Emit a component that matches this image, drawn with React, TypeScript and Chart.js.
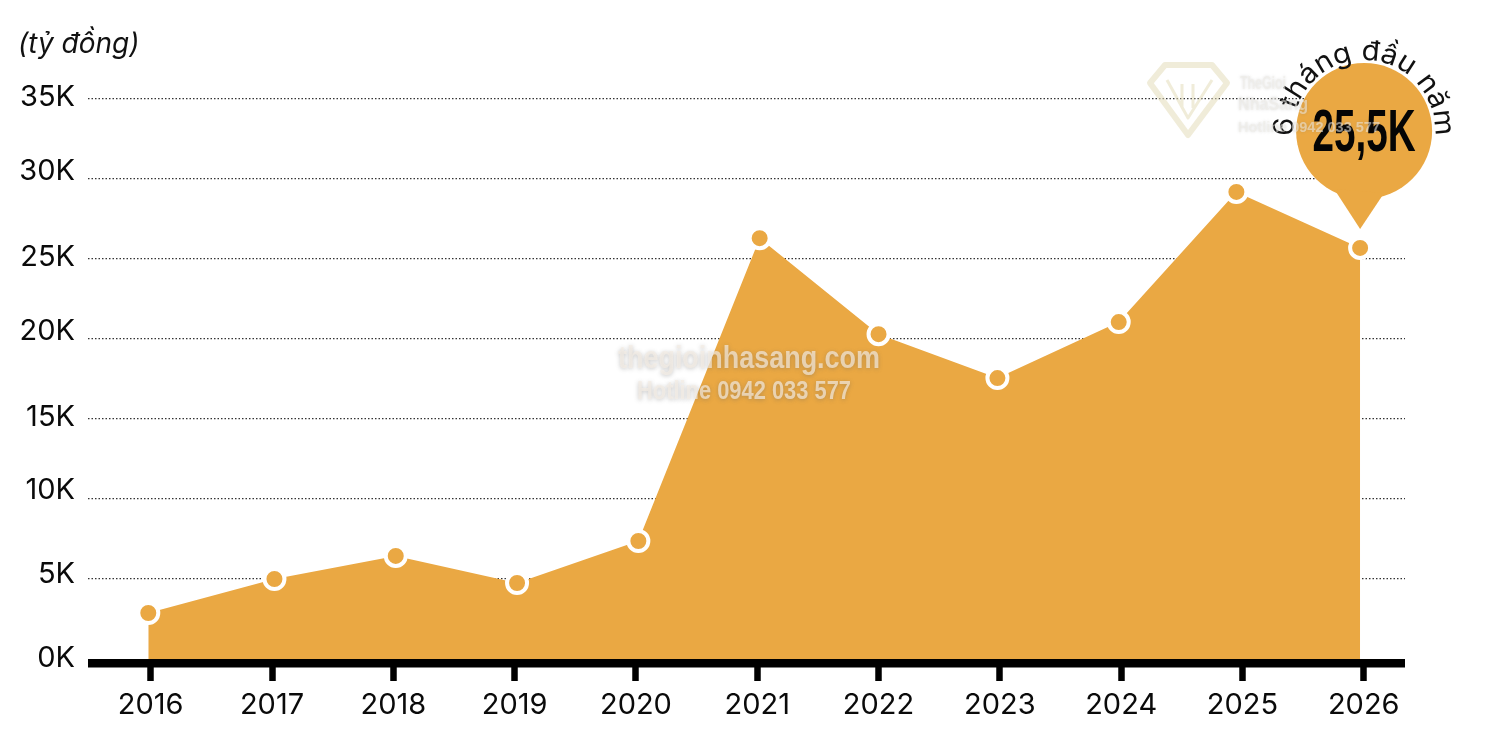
import React, { useEffect, useRef } from "react";
import Chart from "chart.js/auto";

const years = [2016, 2017, 2018, 2019, 2020, 2021, 2022, 2023, 2024, 2025, 2026];
// points sit slightly off the year ticks in the source
const pointX = [2015.98, 2017.02, 2018.02, 2019.02, 2020.02, 2021.02, 2022.0, 2022.98, 2023.98, 2024.95, 2025.97];
const revenue = [2875, 5000, 6440, 4750, 7375, 26300, 20300, 17560, 21060, 29190, 25690];
const yTicks = [0, 5000, 10000, 15000, 20000, 25000, 30000, 35000];
// the y labels are not quite level with their grid lines in the source
const yLabelShift = [-1, -5, -9, -2, -8, -2, -8, -2];

const unitLabel = "(tỷ đồng)";
const bubbleLabel = "25,5K";
const arcLabel = "6 tháng đầu năm";
const watermark = ["thegioinhasang.com", "Hotline 0942 033 577"];
const logoText = ["TheGioi", "NhaSang", "Hotline 0942 033 577"];

const ORANGE = "#EAA843";
const FONT = "Inter, 'Noto Sans', sans-serif";

const decorPlugin = {
  id: "decor",
  afterDraw(chart: any) {
    const { ctx, scales } = chart;
    const x = scales.x;
    const y = scales.y;
    ctx.save();

    // thick baseline
    ctx.fillStyle = "#000";
    ctx.fillRect(x.left, y.getPixelForValue(0), x.right - x.left, 8.5);

    // y tick labels
    ctx.fillStyle = "#0a0a0a";
    ctx.font = `400 29px ${FONT}`;
    ctx.textAlign = "right";
    ctx.textBaseline = "middle";
    yTicks.forEach((v, i) => {
      ctx.fillText(`${v / 1000}K`, 75, y.getPixelForValue(v) + yLabelShift[i]);
    });

    // unit
    ctx.fillStyle = "#111";
    ctx.font = `italic 400 28px ${FONT}`;
    ctx.textAlign = "left";
    ctx.fillText(unitLabel, 18, 45, 122);

    // centre watermark
    ctx.save();
    ctx.textAlign = "center";
    ctx.shadowColor = "rgba(90,90,90,0.5)";
    ctx.shadowBlur = 4;
    ctx.shadowOffsetY = 1;
    ctx.fillStyle = "rgba(245,238,228,0.68)";
    ctx.font = `bold 31px 'Liberation Sans', sans-serif`;
    ctx.fillText(watermark[0], 749, 359, 262);
    ctx.font = `bold 26px 'Liberation Sans', sans-serif`;
    ctx.fillText(watermark[1], 744, 392, 214);
    ctx.restore();

    // logo mark, top right
    ctx.save();
    ctx.strokeStyle = "rgba(228,220,185,0.55)";
    ctx.lineWidth = 6;
    ctx.lineJoin = "round";
    ctx.beginPath();
    ctx.moveTo(1165, 65);
    ctx.lineTo(1212, 65);
    ctx.lineTo(1227, 83);
    ctx.lineTo(1188, 135);
    ctx.lineTo(1150, 83);
    ctx.closePath();
    ctx.stroke();
    ctx.lineWidth = 3;
    ctx.beginPath();
    ctx.moveTo(1167, 80);
    ctx.lineTo(1188, 118);
    ctx.lineTo(1212, 80);
    ctx.moveTo(1182, 84);
    ctx.lineTo(1182, 108);
    ctx.moveTo(1193, 84);
    ctx.lineTo(1193, 108);
    ctx.stroke();
    ctx.restore();

    // value bubble, anchored on the last point
    const lastX = x.getPixelForValue(pointX[pointX.length - 1]);
    const lastY = y.getPixelForValue(revenue[revenue.length - 1]);
    const cx = lastX + 4;
    const cy = lastY - 117;
    const r = 68;
    const tipY = lastY - 19;
    ctx.fillStyle = ORANGE;
    ctx.beginPath();
    ctx.arc(cx, cy, r, 0, Math.PI * 2);
    ctx.fill();
    ctx.beginPath();
    ctx.moveTo(cx - 30, cy + 58);
    ctx.lineTo(lastX, tipY);
    ctx.lineTo(cx + 20, cy + 62);
    ctx.closePath();
    ctx.fill();

    ctx.fillStyle = "#050505";
    ctx.textAlign = "center";
    ctx.font = `bold 60px 'Liberation Sans', sans-serif`;
    ctx.fillText(bubbleLabel, cx, cy + 3, 103);

    // curved caption, glyphs stretched a little to get the wider look
    ctx.font = `400 28px ${FONT}`;
    ctx.fillStyle = "#111";
    const textR = r + 3;
    const stretch = 1.05;
    const chars = Array.from(arcLabel);
    const widths = chars.map((c) => ctx.measureText(c).width * stretch);
    const total = widths.reduce((a, b) => a + b, 0);
    let angle = -total / textR / 2;
    ctx.textBaseline = "alphabetic";
    chars.forEach((c, i) => {
      const mid = angle + widths[i] / 2 / textR;
      ctx.save();
      ctx.translate(cx + Math.sin(mid) * textR, cy - Math.cos(mid) * textR);
      ctx.rotate(mid);
      ctx.scale(stretch, 1);
      ctx.fillText(c, 0, 0);
      ctx.restore();
      angle += widths[i] / textR;
    });

    // logo wordmark lies faintly over the bubble
    ctx.save();
    ctx.textBaseline = "middle";
    ctx.textAlign = "left";
    ctx.shadowColor = "rgba(120,120,120,0.4)";
    ctx.shadowBlur = 3;
    ctx.fillStyle = "rgba(238,236,232,0.55)";
    ctx.font = `bold 19px 'Liberation Sans', sans-serif`;
    ctx.fillText(logoText[0], 1240, 84, 46);
    ctx.fillText(logoText[1], 1238, 105, 70);
    ctx.font = `bold 15px 'Liberation Sans', sans-serif`;
    ctx.fillText(logoText[2], 1238, 128, 142);
    ctx.restore();

    ctx.restore();
  },
};

const App: React.FC = () => {
  const chartRef = useRef<HTMLCanvasElement>(null);

  useEffect(() => {
    if (!chartRef.current) return;
    const chart = new Chart(chartRef.current, {
      type: "line",
      data: {
        datasets: [
          {
            data: pointX.map((v, i) => ({ x: v, y: revenue[i] })),
            fill: "origin",
            backgroundColor: ORANGE,
            borderColor: ORANGE,
            borderWidth: 0,
            tension: 0,
            pointRadius: 10,
            pointBorderWidth: 4,
            pointBackgroundColor: ORANGE,
            pointBorderColor: "#fff",
            clip: false as any,
          },
        ],
      },
      options: {
        animation: false,
        responsive: false,
        layout: { padding: { top: 99, right: 95, left: 0, bottom: 0 } },
        plugins: { legend: { display: false }, tooltip: { enabled: false } },
        scales: {
          x: {
            type: "linear",
            min: 2015.483,
            max: 2026.34,
            afterBuildTicks: (axis: any) => {
              axis.ticks = years.map((v) => ({ value: v }));
            },
            afterFit: (axis: any) => {
              axis.height = 88;
            },
            grid: {
              drawOnChartArea: false,
              drawTicks: true,
              tickLength: 22,
              tickWidth: 6.5,
              tickColor: "#000",
            },
            border: { display: false },
            ticks: {
              autoSkip: false,
              maxRotation: 0,
              padding: 7,
              color: "#0a0a0a",
              font: { family: FONT, size: 29 },
              callback: (v: any) => String(v),
            },
          },
          y: {
            min: 0,
            max: 35000,
            afterBuildTicks: (axis: any) => {
              axis.ticks = yTicks.map((v) => ({ value: v }));
            },
            afterFit: (axis: any) => {
              axis.width = 88;
            },
            grid: {
              drawTicks: false,
              lineWidth: 1.2,
              color: (c: any) => (c.tick.value === 0 ? "rgba(0,0,0,0)" : "#333"),
            },
            border: { display: false, dash: [1.5, 2] },
            // labels are drawn in the plugin so each can be shifted
            ticks: { display: false },
          },
        },
      },
      plugins: [decorPlugin],
    });

    return () => {
      chart.destroy();
    };
  }, []);

  return (
    <div style={{ position: "absolute", left: 0, top: 0, width: 1500, height: 747, background: "#fff" }}>
      <canvas ref={chartRef} width={1500} height={747} />
    </div>
  );
};

export default App;
